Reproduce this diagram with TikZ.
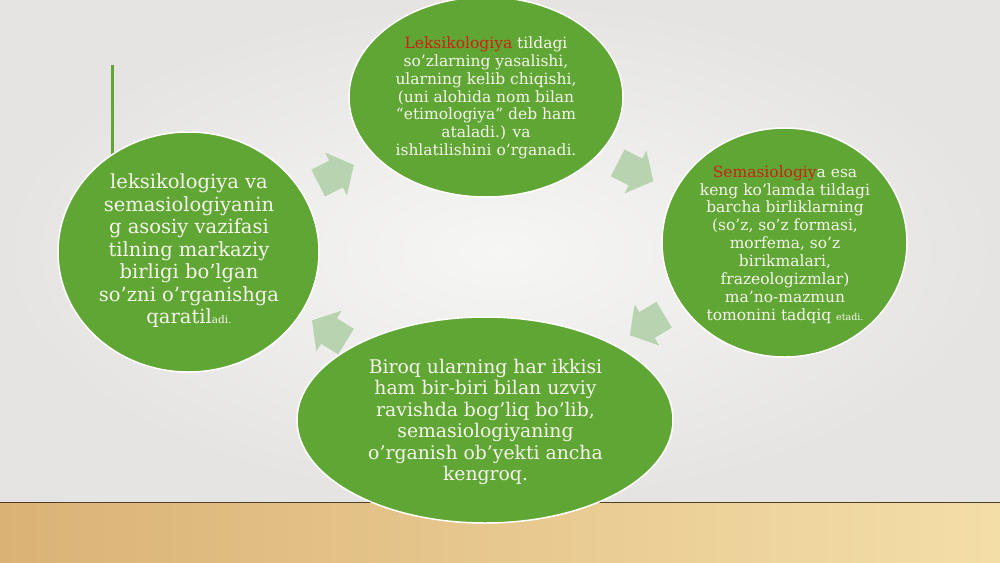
\documentclass[tikz,border=0pt]{standalone}
\usepackage{fontspec}
\setmainfont{DejaVu Serif}
\usetikzlibrary{shapes.geometric}
\definecolor{leaf}{RGB}{96,166,52}
\definecolor{mint}{RGB}{184,211,176}
\definecolor{cream}{RGB}{246,246,236}
\definecolor{lexred}{RGB}{204,34,20}
\definecolor{bglight}{RGB}{246,246,245}
\definecolor{bgdark}{RGB}{229,228,226}
\definecolor{woodL}{RGB}{218,178,118}
\definecolor{woodR}{RGB}{244,222,168}
\definecolor{floorline}{RGB}{80,64,40}
\begin{document}
\begin{tikzpicture}[x=1pt,y=1pt,
  bubble/.style={ellipse, fill=leaf, draw=white, line width=1.5pt, inner sep=0pt},
  btext/.style={align=center, text=cream, inner sep=0pt},
  blockarrow/.style={fill=mint, draw=none}]
\useasboundingbox (0,0) rectangle (1000,-562);
% background
\shade[inner color=bglight, outer color=bgdark] (0,0) rectangle (1000,-503);
\shade[left color=woodL, right color=woodR] (0,-503) rectangle (1000,-562);
\draw[floorline, line width=1.5pt] (0,-502.5) -- (1000,-502.5);
% accent bar
\draw[leaf, line width=3pt] (112,-65) -- (112,-160);
% block arrows
\newcommand{\blockarrowshape}{(-20,-15) -- (0,-15) -- (0,-24) -- (20,0) -- (0,24) -- (0,15) -- (-20,15) -- cycle}
\fill[blockarrow, shift={(336,-174)}, rotate=27] \blockarrowshape;
\fill[blockarrow, shift={(635.5,-172)}, rotate=-27] \blockarrowshape;
\fill[blockarrow, shift={(647,-325)}, rotate=211] \blockarrowshape;
\fill[blockarrow, shift={(329,-331)}, rotate=148] \blockarrowshape;
% ellipses
\node[bubble, minimum width=274pt, minimum height=200pt] (etop) at (486,-97) {};
\node[bubble, minimum width=245pt, minimum height=229pt] (eright) at (784.5,-242.5) {};
\node[bubble, minimum width=261pt, minimum height=240pt] (eleft) at (188.5,-252) {};
\node[bubble, minimum width=376pt, minimum height=206pt] (ebottom) at (485,-420) {};
% texts
\node[btext, font=\fontsize{15.5}{17.8}\selectfont] (ttop) at (486,-98)
  {\textcolor{lexred}{Leksikologiya} tildagi\\
   so’zlarning yasalishi,\\
   ularning kelib chiqishi,\\
   (uni alohida nom bilan\\
   “etimologiya” deb ham\\
   ataladi.) va\\
   ishlatilishini o’rganadi.};
\node[btext, font=\fontsize{15.5}{17.9}\selectfont] (tright) at (785,-244.5)
  {\textcolor{lexred}{Semasiologiy}a esa\\
   keng ko’lamda tildagi\\
   barcha birliklarning\\
   (so’z, so’z formasi,\\
   morfema, so’z\\
   birikmalari,\\
   frazeologizmlar)\\
   ma’no-mazmun\\
   tomonini tadqiq {\fontsize{9.5}{10}\selectfont etadi.}};
\node[btext, font=\fontsize{19.5}{22.5}\selectfont] (tleft) at (189,-251)
  {leksikologiya va\\
   semasiologiyanin\\
   g asosiy vazifasi\\
   tilning markaziy\\
   birligi bo’lgan\\
   so’zni o’rganishga\\
   qaratil{\fontsize{10.5}{10}\selectfont adi.}};
\node[btext, font=\fontsize{18.8}{21.4}\selectfont] (tbottom) at (485.5,-422)
  {Biroq ularning har ikkisi\\
   ham bir-biri bilan uzviy\\
   ravishda bog’liq bo’lib,\\
   semasiologiyaning\\
   o’rganish ob’yekti ancha\\
   kengroq.};
\end{tikzpicture}
\end{document}
